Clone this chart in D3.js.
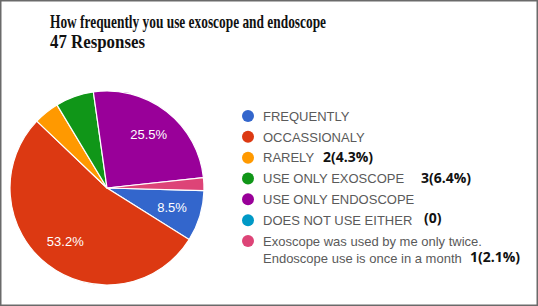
<!DOCTYPE html>
<html>
<head>
<meta charset="utf-8">
<script src="https://cdn.jsdelivr.net/npm/d3@7"></script>
<style>
  body { margin: 0; background: #fff; }
  svg { display: block; }
</style>
</head>
<body>
<svg id="chart" width="538" height="306"></svg>
<script>
// data (47 responses)
const categories = ['FREQUENTLY', 'OCCASSIONALY', 'RARELY', 'USE ONLY EXOSCOPE',
  'USE ONLY ENDOSCOPE', 'DOES NOT USE EITHER',
  'Exoscope was used by me only twice.|Endoscope use is once in a month'];
const counts = [4, 25, 2, 3, 12, 0, 1];
const colors = ['#3366cc', '#dc3912', '#ff9900', '#109618', '#990099', '#0099c6', '#dd4477'];
const notes = ['', '', '2(4.3%)', '3(6.4%)', '', '(0)', '1(2.1%)'];

const svg = d3.select('#chart');
const W = 538, H = 306;

// outer frame
svg.append('rect').attr('x', 0.75).attr('y', 0.75).attr('width', W - 1.5).attr('height', H - 1.5)
  .attr('fill', '#fff').attr('stroke', '#6a6a6a').attr('stroke-width', 1.5);

// title
const title = svg.append('g').attr('font-family', '"Liberation Serif", serif')
  .attr('font-weight', 'bold').attr('font-size', 19.5).attr('fill', '#111');
title.append('text').attr('x', 50).attr('y', 28).attr('textLength', 276).attr('lengthAdjust', 'spacingAndGlyphs')
  .text('How frequently you use exoscope and endoscope');
title.append('text').attr('x', 50).attr('y', 48).attr('textLength', 95).attr('lengthAdjust', 'spacingAndGlyphs')
  .text('47 Responses');

// pie
const total = d3.sum(counts);
const cx = 107, cy = 188, r = 97;
const start = 91.5 * Math.PI / 180;
const pie = d3.pie().sort(null).value(d => d).startAngle(start).endAngle(start + 2 * Math.PI);
const arcs = pie(counts);
const arc = d3.arc().innerRadius(0).outerRadius(r);
const labelArc = d3.arc().innerRadius(r * 0.7).outerRadius(r * 0.7);

const g = svg.append('g').attr('transform', `translate(${cx},${cy})`);
g.selectAll('path').data(arcs.filter(d => d.value > 0)).join('path')
  .attr('d', arc)
  .attr('fill', d => colors[d.index])
  .attr('stroke', '#fff').attr('stroke-width', 1.2);

g.selectAll('text').data(arcs.filter(d => d.value / total > 0.07)).join('text')
  .attr('transform', d => `translate(${labelArc.centroid(d)})`)
  .attr('text-anchor', 'middle').attr('dy', '0.35em')
  .attr('font-family', '"Liberation Sans", Arial, sans-serif').attr('font-size', 13)
  .attr('fill', '#fff')
  .text(d => d3.format('.1f')(d.value / total * 100) + '%');

// legend
const y = d3.scalePoint().domain(d3.range(categories.length)).range([116, 241]);
const rows = svg.append('g').selectAll('g').data(categories).join('g')
  .attr('transform', (d, i) => `translate(248,${y(i)})`);
rows.append('circle').attr('r', 6).attr('fill', (d, i) => colors[i]);
rows.append('text')
  .attr('font-family', '"Liberation Sans", Arial, sans-serif').attr('font-size', 13)
  .attr('fill', '#5a5a5a')
  .each(function(d) {
    const parts = d.split('|');
    d3.select(this).selectAll('tspan').data(parts).join('tspan')
      .attr('x', 15).attr('dy', (p, j) => j === 0 ? '0.36em' : 17)
      .text(p => p);
  });

// bold annotations added on top of the legend
const noteX = [0, 0, 323, 421, 0, 424, 470];
const noteDy = [0, 0, -1, -1, 0, -2, 16];
rows.append('text')
  .attr('x', (d, i) => noteX[i] - 248).attr('y', (d, i) => noteDy[i]).attr('dy', '0.36em')
  .attr('font-family', '"Open Sans", "Liberation Sans", sans-serif').attr('font-weight', 'bold')
  .attr('font-size', 14).attr('fill', '#111')
  .text((d, i) => notes[i]);
</script>
</body>
</html>
